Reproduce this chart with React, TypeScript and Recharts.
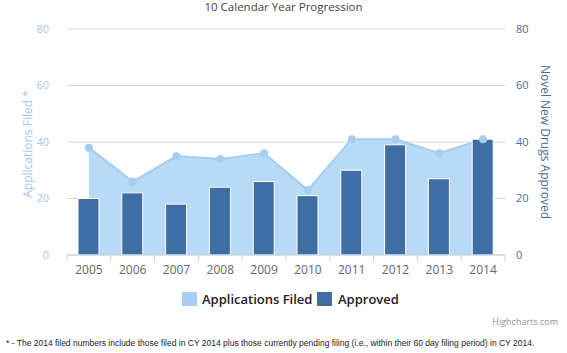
import React from "react";
import { ComposedChart, Area, Bar, XAxis, YAxis, CartesianGrid } from "recharts";

const years = ["2005", "2006", "2007", "2008", "2009", "2010", "2011", "2012", "2013", "2014"];
const filed = [38, 26, 35, 34, 36, 23, 41, 41, 36, 41];
const approved = [20, 22, 18, 24, 26, 21, 30, 39, 27, 41];
const yTicks = [0, 20, 40, 60, 80];

const data = years.map((y, i) => ({ year: y, filed: filed[i], approved: approved[i] }));

const FONT = "'Open Sans', 'Noto Sans', sans-serif";

const XTick = (props: any) => {
  const { x, y, payload, index } = props;
  const off = payload.offset ?? 22;
  const top = y - 8;
  return (
    <g>
      <line x1={x - off} y1={top} x2={x - off} y2={top + 6} stroke="#c0d0e0" />
      {index === years.length - 1 && (
        <line x1={x + off} y1={top} x2={x + off} y2={top + 6} stroke="#c0d0e0" />
      )}
      <text x={x} y={y + 11} textAnchor="middle" fill="#666" fontSize={12} fontFamily={FONT}>
        {payload.value}
      </text>
    </g>
  );
};

export default function App() {
  return (
    <div style={{ position: "absolute", left: 0, top: 0, width: 567, height: 353, background: "#fff", fontFamily: FONT }}>
      <div style={{ position: "absolute", left: 0, width: 567, top: 1, lineHeight: "12px", textAlign: "center", fontSize: 11.5, color: "#444" }}>
        10 Calendar Year Progression
      </div>
      <ComposedChart
        width={567}
        height={353}
        data={data}
        margin={{ top: 29, left: 0, right: 0, bottom: 68 }}
        barCategoryGap={0}
      >
        <CartesianGrid vertical={false} stroke="#d8d8d8" yAxisId="left" />
        <XAxis
          dataKey="year"
          height={30}
          tickLine={false}
          axisLine={{ stroke: "#c0d0e0" }}
          tick={<XTick />}
          interval={0}
        />
        <YAxis
          yAxisId="left"
          orientation="left"
          width={67}
          domain={[0, 80]}
          ticks={yTicks}
          tickLine={false}
          axisLine={false}
          tickMargin={12}
          tick={{ fill: "#a9c8ea", fontSize: 11, fontFamily: FONT }}
          label={{ value: "Applications Filed *", angle: -90, position: "insideLeft", offset: 28, dy: 2, style: { fill: "#a9c8ea", fontSize: 12, fontFamily: FONT, textAnchor: "middle" } }}
        />
        <YAxis
          yAxisId="right"
          orientation="right"
          width={62}
          domain={[0, 80]}
          ticks={yTicks}
          tickLine={false}
          axisLine={false}
          tickMargin={5}
          tick={{ fill: "#4a6d9c", fontSize: 11, fontFamily: FONT, textAnchor: "start" }}
          label={{ value: "Novel New Drugs Approved", angle: 90, position: "insideRight", offset: 22, style: { fill: "#4a6d9c", fontSize: 12, fontFamily: FONT, textAnchor: "middle" } }}
        />
        <Area
          yAxisId="left"
          dataKey="filed"
          type="linear"
          stroke="#a6cdf0"
          strokeWidth={2}
          fill="#b9daf6"
          fillOpacity={1}
          dot={{ r: 4, fill: "#a6cdf0", stroke: "#a6cdf0", strokeWidth: 0 }}
          isAnimationActive={false}
        />
        <Bar
          yAxisId="right"
          dataKey="approved"
          fill="#3f6ea5"
          stroke="#ffffff"
          strokeWidth={1}
          barSize={21}
          isAnimationActive={false}
        />
      </ComposedChart>
      <div style={{ position: "absolute", left: 182, top: 292, width: 15, height: 14, background: "#a9cff3" }} />
      <div style={{ position: "absolute", left: 202, top: 290, fontSize: 13, color: "#222", fontWeight: 600 }}>Applications Filed</div>
      <div style={{ position: "absolute", left: 317, top: 292, width: 15, height: 14, background: "#3f6ea5" }} />
      <div style={{ position: "absolute", left: 338, top: 290, fontSize: 13, color: "#222", fontWeight: 600 }}>Approved</div>
      <div style={{ position: "absolute", right: 9, top: 315, fontSize: 9, color: "#909090" }}>Highcharts.com</div>
      <div style={{ position: "absolute", left: 6, top: 338, fontSize: 8.5, color: "#222", fontFamily: "'Liberation Sans', Arial, sans-serif" }}>
        * - The 2014 filed numbers include those filed in CY 2014 plus those currently pending filing (i.e., within their 60 day filing period) in CY 2014.
      </div>
    </div>
  );
}
